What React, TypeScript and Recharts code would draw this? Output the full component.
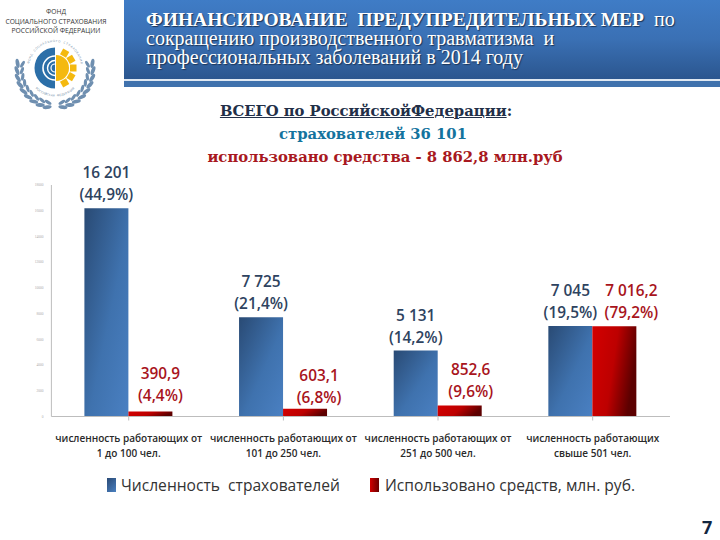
import React from "react";
import { BarChart, Bar, XAxis, YAxis, Legend, LabelList } from "recharts";

const categories = [
  ["численность работающих от", "1 до 100 чел."],
  ["численность работающих от", "101 до 250 чел."],
  ["численность работающих от", "251 до 500 чел."],
  ["численность работающих", "свыше 501 чел."],
];
const insurers = [16201, 7725, 5131, 7045];
const funds = [390.9, 603.1, 852.6, 7016.2];
const insurerLabels = [["16 201", "(44,9%)"], ["7 725", "(21,4%)"], ["5 131", "(14,2%)"], ["7 045", "(19,5%)"]];
const fundLabels = [["390,9", "(4,4%)"], ["603,1", "(6,8%)"], ["852,6", "(9,6%)"], ["7 016,2", "(79,2%)"]];
const yTicks = [0, 2000, 4000, 6000, 8000, 10000, 12000, 14000, 16000, 18000];
const insurerName = "Численность  страхователей";
const fundName = "Использовано средств, млн. руб.";
const titleHead = "ФИНАНСИРОВАНИЕ  ПРЕДУПРЕДИТЕЛЬНЫХ МЕР";
const titleLines = ["сокращению производственного травматизма  и", "профессиональных заболеваний в 2014 году"];
const ringTop = "ФОНД СОЦИАЛЬНОГО СТРАХОВАНИЯ";
const ringBottom = "РОССИЙСКАЯ ФЕДЕРАЦИЯ";

const fundDx = [10, 14, 11, 17];
const fundDy = [-10, -6, -9, -8];

const data = categories.map((c, i) => ({
  key: String(i),
  insurers: insurers[i],
  funds: funds[i],
}));

const CatTick = (p: any) => {
  const lines = categories[p.index] || ["", ""];
  return (
    <text x={p.x} y={p.y} textAnchor="middle" fontFamily="'Open Sans'" fontWeight={600} fontSize={10} fill="#2a2a2a">
      <tspan x={p.x} dy={19}>{lines[0]}</tspan>
      <tspan x={p.x} dy={15}>{lines[1]}</tspan>
    </text>
  );
};

const makeLabel = (arr: string[][], color: string, dxs: number[], dys: number[]) => (p: any) => {
  const lines = arr[p.index];
  const cx = p.x + p.width / 2 + dxs[p.index];
  const base = p.y + dys[p.index];
  return (
    <text textAnchor="middle" fontFamily="'Open Sans'" fontWeight={600} fontSize={15.4} fill={color}>
      <tspan x={cx} y={base - 22}>{lines[0]}</tspan>
      <tspan x={cx} y={base}>{lines[1]}</tspan>
    </text>
  );
};

const LegendView = () => (
  <div style={{ position: "relative", height: 20, fontFamily: "'Open Sans'", fontSize: 15.6, color: "#333", whiteSpace: "pre" }}>
    <span style={{ position: "absolute", left: 107, top: 3, width: 9, height: 14, background: "linear-gradient(135deg,#2a4a75,#4a80c0)" }} />
    <span style={{ position: "absolute", left: 121, top: -1 }}>{insurerName}</span>
    <span style={{ position: "absolute", left: 370, top: 3, width: 9, height: 14, background: "linear-gradient(90deg,#d00000,#6a0000)" }} />
    <span style={{ position: "absolute", left: 385, top: -1 }}>{fundName}</span>
  </div>
);

const leafSteps = [0, 1, 2, 3, 4, 5, 6, 7, 8];
const sunSteps = [-60, -30, 0, 30, 60];

const RingText = ({ text, from, step, flip }: { text: string; from: number; step: number; flip: boolean }) => (
  <g>
    {Array.from(text).map((ch, i) => {
      const deg = from + i * step;
      const rad = (deg * Math.PI) / 180;
      const r = flip ? 28.5 : 26;
      const x = 55 + r * Math.sin(rad);
      const y = 68 - r * Math.cos(rad);
      return (
        <text key={i} x={x} y={y} fontFamily="'Open Sans'" fontSize={3} fill="#6c87a3" textAnchor="middle" transform={`rotate(${flip ? deg + 180 : deg} ${x} ${y})`}>
          {ch}
        </text>
      );
    })}
  </g>
);

const Logo = () => (
  <svg width={124} height={120} viewBox="0 0 124 120" style={{ position: "absolute", left: 0, top: 0 }}>
    <path d="M55 47.5 A20.5 20.5 0 0 0 55 88.5 Z" fill="#2c6fa8" />
    <path d="M55 56 A12 12 0 0 0 55 80" fill="none" stroke="#fff" strokeWidth={1.6} />
    <path d="M55 60.5 A7.5 7.5 0 0 0 55 75.5" fill="none" stroke="#fff" strokeWidth={1.4} />
    <path d="M55 64 A4 4 0 0 0 55 72" fill="none" stroke="#fff" strokeWidth={1.2} />
    <path d="M56 55 A13 13 0 0 1 56 81 Z" fill="#f4b90f" />
    {sunSteps.map((a) => (
      <rect key={a} x={70} y={64.5} width={6.5} height={7} fill="#f4b90f" transform={`rotate(${a} 56 68)`} />
    ))}
    <RingText text={ringTop} from={-78} step={5.8} flip={false} />
    <RingText text={ringBottom} from={222} step={-4.4} flip={true} />
    {leafSteps.map((i) => {
      const deg = 190 - i * 11;
      const rad = (deg * Math.PI) / 180;
      const x = 55 + 38 * Math.cos(rad);
      const y = 70 + 38 * Math.sin(rad);
      const xi = 55 + 33 * Math.cos(rad);
      const yi = 70 + 33 * Math.sin(rad);
      const rotO = deg - 20;
      const rotI = deg + 20;
      return (
        <g key={i} fill="#6f8fb0">
          <ellipse cx={x} cy={y} rx={1.9} ry={4.6} transform={`rotate(${rotO} ${x} ${y})`} />
          <ellipse cx={xi} cy={yi} rx={1.6} ry={3.8} transform={`rotate(${rotI} ${xi} ${yi})`} />
          <ellipse cx={110 - x} cy={y} rx={1.9} ry={4.6} transform={`rotate(${-rotO} ${110 - x} ${y})`} />
          <ellipse cx={110 - xi} cy={yi} rx={1.6} ry={3.8} transform={`rotate(${-rotI} ${110 - xi} ${yi})`} />
        </g>
      );
    })}
  </svg>
);

export default function App() {
  return (
    <div style={{ position: "absolute", left: 0, top: 0, width: 720, height: 540, background: "#fff", overflow: "hidden" }}>
      <div style={{ position: "absolute", left: 0, top: 7, width: 112, textAlign: "center", fontFamily: "'Open Sans'", fontSize: 6.7, lineHeight: "9.5px", color: "#333", whiteSpace: "nowrap" }}>
        ФОНД<br />СОЦИАЛЬНОГО СТРАХОВАНИЯ<br />РОССИЙСКОЙ ФЕДЕРАЦИИ
      </div>
      <Logo />
      <div style={{ position: "absolute", left: 124, top: 0, width: 596, height: 79, background: "linear-gradient(180deg,#3f7cc6 0%,#3a70b4 50%,#2b568f 100%)" }} />
      <div style={{ position: "absolute", left: 124, top: 79, width: 596, height: 2, background: "#dfe8f2" }} />
      <div style={{ position: "absolute", left: 124, top: 81, width: 596, height: 6, background: "#4072ad" }} />
      <div style={{ position: "absolute", left: 146, top: 10, fontFamily: "'Liberation Serif'", fontSize: 20, lineHeight: "19px", color: "#fff", whiteSpace: "pre", textShadow: "1px 1px 1px #1c3558" }}>
        <b style={{ fontSize: 19.5 }}>{titleHead}</b>  по{"\n"}{titleLines[0]}{"\n"}{titleLines[1]}
      </div>
      <div style={{ position: "absolute", left: 0, top: 98.5, width: 720, textAlign: "center", fontFamily: "'DejaVu Serif'", fontWeight: 700, fontSize: 14.8, lineHeight: "23px", whiteSpace: "pre" }}>
        <div style={{ color: "#222f48", marginLeft: 12 }}><u>ВСЕГО по РоссийскойФедерации</u>:</div>
        <div style={{ color: "#14739e", marginLeft: 26 }}>страхователей 36 101</div>
        <div style={{ color: "#a81820", marginLeft: 50 }}>использовано средства - 8 862,8 млн.руб</div>
      </div>
      <div style={{ position: "absolute", left: 0, top: 0 }}>
        <BarChart width={720} height={540} data={data} margin={{ top: 185, right: 50, bottom: 73.5, left: 21.4 }} barSize={44} barGap={0}>
          <defs>
            <linearGradient id="blueGrad" x1="0" y1="0" x2="1" y2="1">
              <stop offset="0%" stopColor="#294a74" />
              <stop offset="55%" stopColor="#3f72ae" />
              <stop offset="100%" stopColor="#4a80c2" />
            </linearGradient>
            <linearGradient id="redGrad" x1="0" y1="0" x2="1" y2="0.3">
              <stop offset="0%" stopColor="#d40000" />
              <stop offset="55%" stopColor="#bd0000" />
              <stop offset="100%" stopColor="#5c0000" />
            </linearGradient>
          </defs>
          <XAxis dataKey="key" height={30} tick={CatTick} axisLine={{ stroke: "#bdbdbd" }} tickLine={{ stroke: "#bdbdbd" }} tickSize={4} interval={0} />
          <YAxis width={30} domain={[0, 18000]} ticks={yTicks} axisLine={{ stroke: "#bdbdbd" }} tickLine={false} tick={{ fontSize: 3.5, fill: "#aaa" }} />
          <Legend verticalAlign="bottom" content={LegendView} wrapperStyle={{ left: 0, width: 720, top: 475 }} />
          <Bar dataKey="insurers" name={insurerName} fill="url(#blueGrad)" isAnimationActive={false}>
            <LabelList dataKey="insurers" content={makeLabel(insurerLabels, "#2e4360", [0, 0, 0, 0], [-8, -8, -8, -8])} />
          </Bar>
          <Bar dataKey="funds" name={fundName} fill="url(#redGrad)" isAnimationActive={false}>
            <LabelList dataKey="funds" content={makeLabel(fundLabels, "#a8141c", fundDx, fundDy)} />
          </Bar>
        </BarChart>
      </div>
      <div style={{ position: "absolute", left: 702, top: 515, fontFamily: "'Open Sans'", fontWeight: 700, fontSize: 18, color: "#12263f" }}>7</div>
    </div>
  );
}
